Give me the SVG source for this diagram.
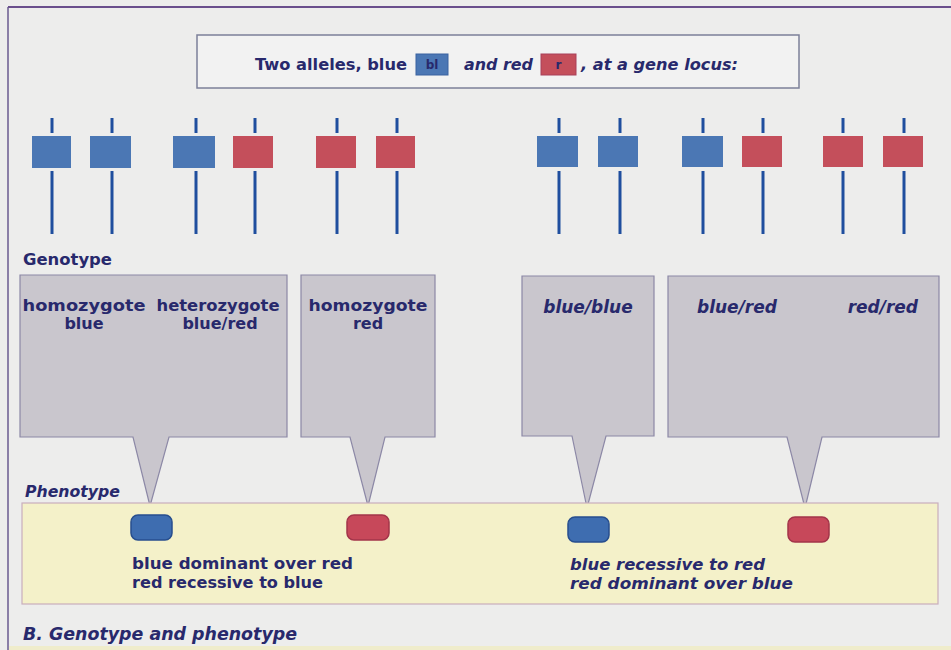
<svg xmlns="http://www.w3.org/2000/svg" width="951" height="650" viewBox="0 0 951 650">
  <defs>
    <style>
      .t { font-family: "DejaVu Sans", "Liberation Sans", sans-serif; font-weight: bold; fill: #28296c; }
      .it { font-style: italic; }
      .stem { stroke: #1f4e9e; stroke-width: 3; fill: none; }
      .bl { fill: #4b77b4; }
      .rd { fill: #c44f5b; }
      .callout { fill: #c9c6cd; stroke: #8c88a6; stroke-width: 1.2; }
      .pheno-bl { fill: #3e6db0; stroke: #274e8e; stroke-width: 1.5; }
      .pheno-rd { fill: #c7485a; stroke: #a3344a; stroke-width: 1.5; }
    </style>
    <!-- chromosome stem above and below its allele block -->
    <g id="stemPair">
      <line class="stem" x1="0" y1="118" x2="0" y2="133"/>
      <line class="stem" x1="0" y1="171" x2="0" y2="234"/>
    </g>
  </defs>

  <!-- page -->
  <rect x="0" y="0" width="951" height="650" fill="#ededec"/>
  <line x1="8" y1="7" x2="951" y2="7" stroke="#6a4f8c" stroke-width="2"/>
  <line x1="8" y1="7" x2="8" y2="650" stroke="#6a5a90" stroke-width="1.5"/>
  <rect x="9" y="646" width="942" height="4" fill="#efeccb"/>

  <!-- legend -->
  <g id="legend">
    <rect x="197" y="35" width="602" height="53" fill="#f2f2f2" stroke="#7c8099" stroke-width="1.5"/>
    <text class="t" x="255" y="70" font-size="15" textLength="152" lengthAdjust="spacingAndGlyphs">Two alleles, blue</text>
    <rect x="416" y="54" width="32" height="21" class="bl" stroke="#3a63a0" stroke-width="1"/>
    <text class="t" x="432" y="69" font-size="12" text-anchor="middle" fill="#1c2255">bl</text>
    <text class="t it" x="464" y="70" font-size="15" textLength="69" lengthAdjust="spacingAndGlyphs">and red</text>
    <rect x="541" y="54" width="35" height="21" class="rd" stroke="#a8405a" stroke-width="1"/>
    <text class="t" x="558.5" y="69" font-size="12" text-anchor="middle" fill="#3a1d2a">r</text>
    <text class="t it" x="581" y="70" font-size="15" textLength="157" lengthAdjust="spacingAndGlyphs">, at a gene locus:</text>
  </g>

  <!-- chromosome pairs, left set -->
  <g id="chromosomes-left">
    <use href="#stemPair" x="52"/>
    <rect class="bl" x="32" y="136" width="39" height="32"/>
    <use href="#stemPair" x="112"/>
    <rect class="bl" x="90" y="136" width="41" height="32"/>
    <use href="#stemPair" x="196"/>
    <rect class="bl" x="173" y="136" width="42" height="32"/>
    <use href="#stemPair" x="255"/>
    <rect class="rd" x="233" y="136" width="40" height="32"/>
    <use href="#stemPair" x="337"/>
    <rect class="rd" x="316" y="136" width="40" height="32"/>
    <use href="#stemPair" x="397"/>
    <rect class="rd" x="376" y="136" width="39" height="32"/>
  </g>

  <!-- chromosome pairs, right set -->
  <g id="chromosomes-right">
    <use href="#stemPair" x="559"/>
    <rect class="bl" x="537" y="136" width="41" height="31"/>
    <use href="#stemPair" x="620"/>
    <rect class="bl" x="598" y="136" width="40" height="31"/>
    <use href="#stemPair" x="703"/>
    <rect class="bl" x="682" y="136" width="41" height="31"/>
    <use href="#stemPair" x="763"/>
    <rect class="rd" x="742" y="136" width="40" height="31"/>
    <use href="#stemPair" x="843"/>
    <rect class="rd" x="823" y="136" width="40" height="31"/>
    <use href="#stemPair" x="904"/>
    <rect class="rd" x="883" y="136" width="40" height="31"/>
  </g>

  <text class="t" x="23" y="265" font-size="15" textLength="89" lengthAdjust="spacingAndGlyphs">Genotype</text>

  <!-- genotype callouts -->
  <g id="geno-dominant-blue">
    <path class="callout" d="M20,275 H287 V437 H169 L150,506 L133,437 H20 Z"/>
    <text class="t" x="84" y="311" font-size="16" text-anchor="middle" textLength="123" lengthAdjust="spacingAndGlyphs">homozygote</text>
    <text class="t" x="84" y="329" font-size="16" text-anchor="middle">blue</text>
    <text class="t" x="218" y="311" font-size="16" text-anchor="middle" textLength="123" lengthAdjust="spacingAndGlyphs">heterozygote</text>
    <text class="t" x="220" y="329" font-size="16" text-anchor="middle">blue/red</text>
  </g>
  <g id="geno-recessive-red">
    <path class="callout" d="M301,275 H435 V437 H385 L368,506 L350,437 H301 Z"/>
    <text class="t" x="368" y="311" font-size="16" text-anchor="middle" textLength="119" lengthAdjust="spacingAndGlyphs">homozygote</text>
    <text class="t" x="368" y="329" font-size="16" text-anchor="middle">red</text>
  </g>
  <g id="geno-recessive-blue">
    <path class="callout" d="M522,276 H654 V436 H606 L587,508 L572,436 H522 Z"/>
    <text class="t it" x="588" y="313" font-size="17" text-anchor="middle">blue/blue</text>
  </g>
  <g id="geno-dominant-red">
    <path class="callout" d="M668,276 H939 V437 H822 L805,508 L787,437 H668 Z"/>
    <text class="t it" x="697" y="313" font-size="17">blue/red</text>
    <text class="t it" x="918" y="313" font-size="17" text-anchor="end">red/red</text>
  </g>

  <text class="t it" x="25" y="497" font-size="15" textLength="95" lengthAdjust="spacingAndGlyphs">Phenotype</text>

  <!-- phenotype band -->
  <g id="phenotype">
    <rect x="22" y="503" width="916" height="101" fill="#f4f1c9" stroke="#c9aebd" stroke-width="1.2"/>
    <rect class="pheno-bl" x="131" y="515" width="41" height="25" rx="7"/>
    <rect class="pheno-rd" x="347" y="515" width="42" height="25" rx="7"/>
    <rect class="pheno-bl" x="568" y="517" width="41" height="25" rx="7"/>
    <rect class="pheno-rd" x="788" y="517" width="41" height="25" rx="7"/>
    <text class="t" x="132" y="569" font-size="15.5" textLength="221" lengthAdjust="spacingAndGlyphs">blue dominant over red</text>
    <text class="t" x="132" y="588" font-size="15.5" textLength="191" lengthAdjust="spacingAndGlyphs">red recessive to blue</text>
    <text class="t it" x="570" y="570" font-size="15.5" textLength="195" lengthAdjust="spacingAndGlyphs">blue recessive to red</text>
    <text class="t it" x="570" y="589" font-size="15.5" textLength="223" lengthAdjust="spacingAndGlyphs">red dominant over blue</text>
  </g>

  <text class="t it" x="23" y="640" font-size="17" textLength="274" lengthAdjust="spacingAndGlyphs">B. Genotype and phenotype</text>
</svg>
